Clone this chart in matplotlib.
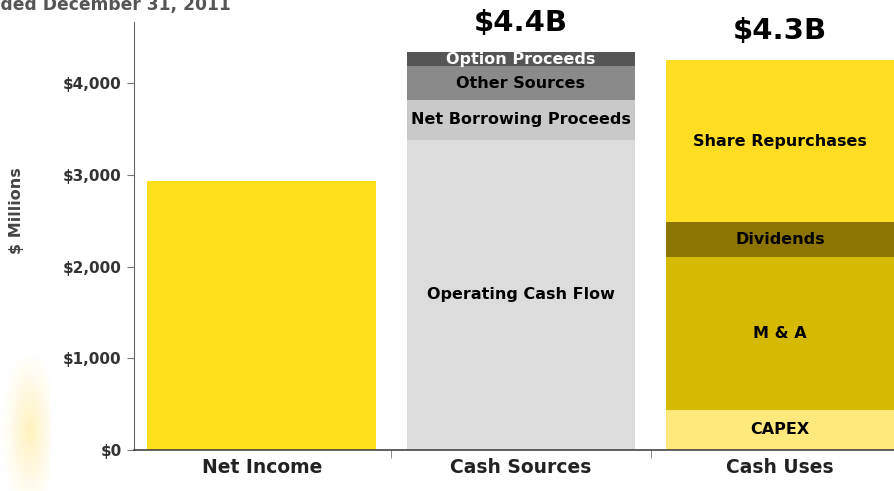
import numpy as np
import matplotlib.pyplot as plt

# values in $ millions
categories = ['Net Income', 'Cash Sources', 'Cash Uses']
net_income = 2930

source_names = ['Operating Cash Flow', 'Net Borrowing Proceeds', 'Other Sources', 'Option Proceeds']
source_vals = [3380, 435, 370, 150]
source_colors = ['#dcdcdc', '#c9c9c9', '#8a8a8a', '#555555']
source_text = ['black', 'black', 'black', 'white']

use_names = ['CAPEX', 'M & A', 'Dividends', 'Share Repurchases']
use_vals = [436, 1668, 381, 1765]
use_colors = ['#ffe97c', '#d6b902', '#8c7400', '#fedd22']

totals = ['$4.4B', '$4.3B']
yticks = [0, 1000, 2000, 3000, 4000]
ytick_labels = ['$0', '$1,000', '$2,000', '$3,000', '$4,000']

fig = plt.figure(figsize=(8.94, 4.91), dpi=100)

# soft yellow logo fade in the lower-left corner
logo_ax = fig.add_axes([0, 0, 0.055, 0.27], zorder=0)
yy, xx = np.mgrid[0:1:100j, 0:1:40j]
fade = np.clip(1 - np.hypot((xx - 0.6) / 0.6, (yy - 0.45) / 0.65), 0, 1) ** 1.2
img = np.zeros((100, 40, 4))
img[..., 0] = 1.0
img[..., 1] = 0.87
img[..., 2] = 0.35
img[..., 3] = 0.4 * fade
logo_ax.imshow(img, aspect='auto', origin='lower')
logo_ax.axis('off')

ax = fig.add_axes([134 / 894, 41 / 491, 760 / 894, 428 / 491])
ax.patch.set_alpha(0)

width = 0.884
ax.bar(0, net_income, width=width, color='#ffe01a', zorder=2)

def stack(x, vals, colors, names, text_colors):
    bottom = 0
    for v, c, n, tc in zip(vals, colors, names, text_colors):
        ax.bar(x, v, width=width, bottom=bottom, color=c, zorder=2)
        ax.text(x, bottom + v / 2, n, ha='center', va='center', fontsize=11.5,
                fontweight='bold', color=tc, zorder=3)
        bottom += v
    return bottom

top_src = stack(1, source_vals, source_colors, source_names, source_text)
top_use = stack(2, use_vals, use_colors, use_names, ['black'] * 4)

for x, top, lab in zip([1, 2], [top_src, top_use], totals):
    ax.annotate(lab, (x, top), xytext=(0, 21), textcoords='offset points',
                ha='center', va='center', fontsize=21, fontweight='bold',
                annotation_clip=False)

ax.set_xlim(-0.494, 2.44)
ax.set_ylim(0, 4665)
ax.set_yticks(yticks)
ax.set_yticklabels(ytick_labels, fontsize=11, fontweight='bold', color='#333333')
ax.set_xticks([0, 1, 2])
ax.set_xticklabels(categories, fontsize=13.5, fontweight='bold', color='#222222')
ax.set_xticks([0.5, 1.5], minor=True)
ax.tick_params(axis='x', which='major', length=0, pad=6)
ax.tick_params(axis='x', which='minor', length=6, color='#777777', direction='out')
ax.tick_params(axis='y', length=5, color='#777777', pad=4)
for s in ['top', 'right']:
    ax.spines[s].set_visible(False)
ax.spines['left'].set_color('#666666')
ax.spines['bottom'].set_color('#444444')
ax.spines['bottom'].set_linewidth(1.2)

ax.set_ylabel('$ Millions', fontsize=11.5, fontweight='bold', color='#444444')
ax.yaxis.set_label_coords(-0.145, 0.56)

fig.text(-0.08, 0.989, 'Year Ended December 31, 2011', fontsize=12.3,
         fontweight='bold', color='#555555', ha='left', va='center')

fig.savefig('out.png', dpi=100)
